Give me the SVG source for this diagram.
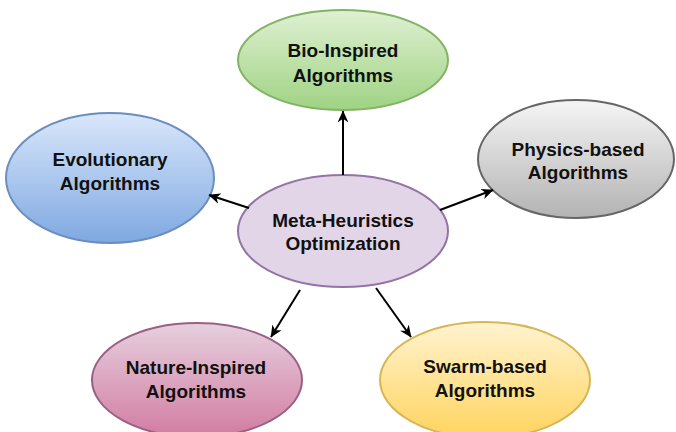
<svg xmlns="http://www.w3.org/2000/svg" width="676" height="432" viewBox="0 0 676 432">
  <style>
    .lbl { font-family: "Liberation Sans", Arial, sans-serif; font-weight: bold; font-size: 19px; fill: #111; text-anchor: middle; }
    .edge { stroke: #000; stroke-width: 2; fill: none; marker-end: url(#arrow); }
    .node { stroke-width: 2; }
  </style>
  <defs>
    <marker id="arrow" viewBox="0 0 10 10" refX="9.5" refY="5" markerWidth="12" markerHeight="12" orient="auto" markerUnits="userSpaceOnUse">
      <path d="M0,0.5 L10,5 L0,9.5 L3,5 Z" fill="#000"/>
    </marker>
    <linearGradient id="gGreen" x1="0" y1="0" x2="0" y2="1">
      <stop offset="0" stop-color="#dff0d2"/>
      <stop offset="1" stop-color="#9fd383"/>
    </linearGradient>
    <linearGradient id="gBlue" x1="0" y1="0" x2="0" y2="1">
      <stop offset="0" stop-color="#d9e7fb"/>
      <stop offset="1" stop-color="#7fa8e1"/>
    </linearGradient>
    <linearGradient id="gGray" x1="0" y1="0" x2="0" y2="1">
      <stop offset="0" stop-color="#f5f5f5"/>
      <stop offset="1" stop-color="#b3b3b3"/>
    </linearGradient>
    <linearGradient id="gPink" x1="0" y1="0" x2="0" y2="1">
      <stop offset="0" stop-color="#e6d0de"/>
      <stop offset="1" stop-color="#d27ca2"/>
    </linearGradient>
    <linearGradient id="gYellow" x1="0" y1="0" x2="0" y2="1">
      <stop offset="0" stop-color="#fff3d0"/>
      <stop offset="1" stop-color="#ffd45e"/>
    </linearGradient>
  </defs>

  <g id="bio-inspired">
    <ellipse class="node" cx="343" cy="60" rx="105" ry="50" fill="url(#gGreen)" stroke="#82b366"/>
    <text class="lbl" x="343" y="57">Bio-Inspired</text>
    <text class="lbl" x="343" y="82">Algorithms</text>
  </g>

  <g id="evolutionary">
    <ellipse class="node" cx="110" cy="178" rx="104" ry="65" fill="url(#gBlue)" stroke="#6c8ebf"/>
    <text class="lbl" x="110" y="166">Evolutionary</text>
    <text class="lbl" x="110" y="190">Algorithms</text>
  </g>

  <g id="meta-heuristics">
    <ellipse class="node" cx="343" cy="231" rx="105" ry="56" fill="#e1d5e7" stroke="#9673a6"/>
    <text class="lbl" x="343" y="227">Meta-Heuristics</text>
    <text class="lbl" x="343" y="250">Optimization</text>
  </g>

  <g id="physics-based">
    <ellipse class="node" cx="576" cy="159" rx="98" ry="59" fill="url(#gGray)" stroke="#666666"/>
    <text class="lbl" x="578" y="156">Physics-based</text>
    <text class="lbl" x="578" y="179">Algorithms</text>
  </g>

  <g id="nature-inspired">
    <ellipse class="node" cx="197" cy="380" rx="105" ry="57" fill="url(#gPink)" stroke="#996185"/>
    <text class="lbl" x="196" y="374">Nature-Inspired</text>
    <text class="lbl" x="196" y="398">Algorithms</text>
  </g>

  <g id="swarm-based">
    <ellipse class="node" cx="485" cy="380" rx="105" ry="58" fill="url(#gYellow)" stroke="#d6b656"/>
    <text class="lbl" x="485" y="373">Swarm-based</text>
    <text class="lbl" x="485" y="397">Algorithms</text>
  </g>

  <g id="connectors">
    <line class="edge" x1="343" y1="175" x2="343" y2="111"/>
    <line class="edge" x1="249" y1="208" x2="209" y2="195"/>
    <line class="edge" x1="440" y1="210" x2="493" y2="190"/>
    <line class="edge" x1="300" y1="290" x2="271" y2="337"/>
    <line class="edge" x1="376" y1="288" x2="411" y2="337"/>
  </g>
</svg>
